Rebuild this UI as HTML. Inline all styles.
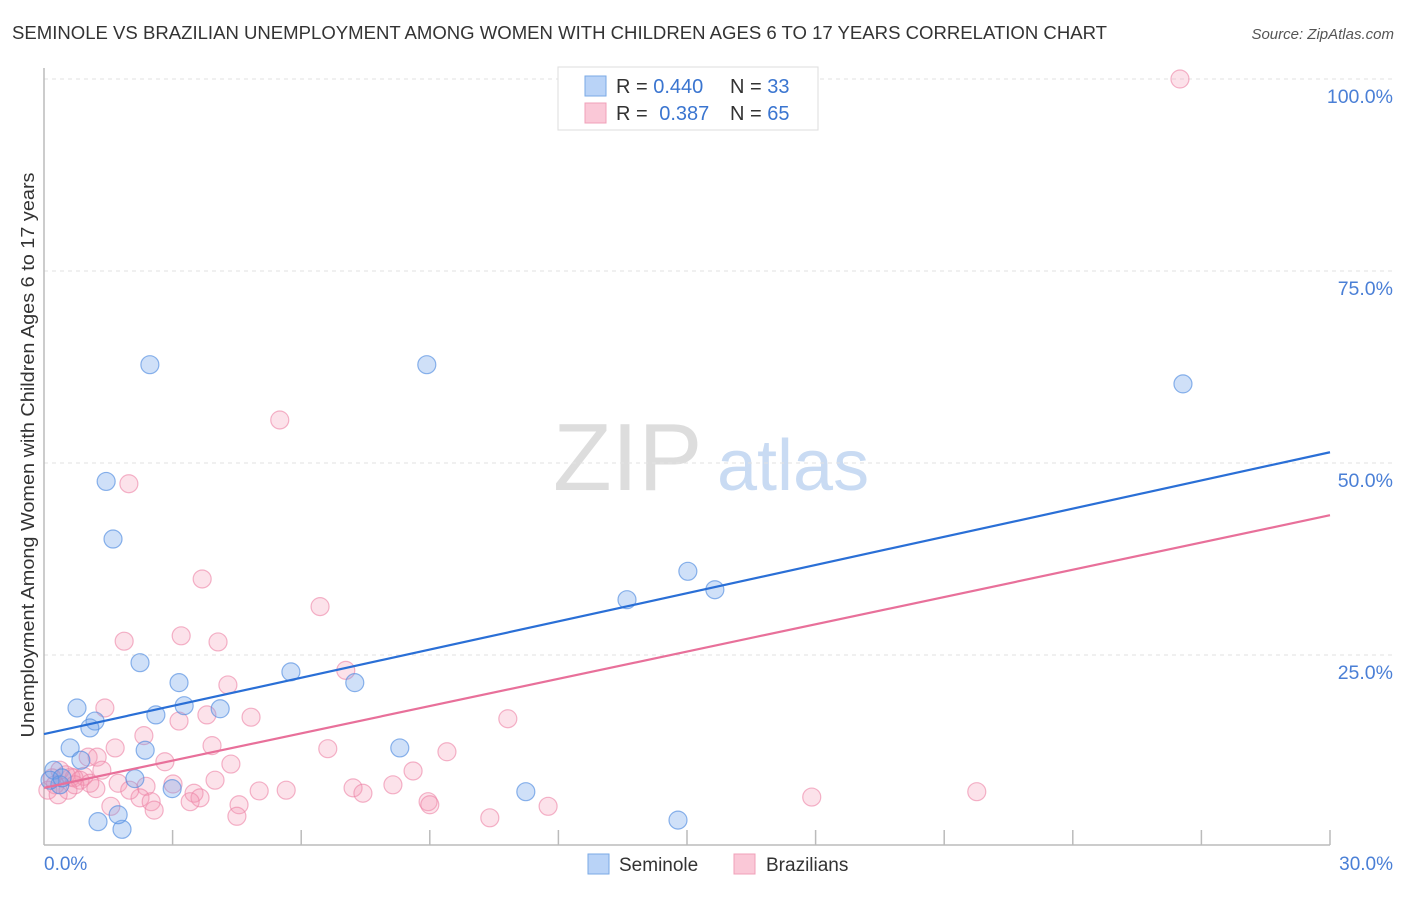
<!DOCTYPE html>
<html><head><meta charset="utf-8"><style>
body{margin:0;background:#fff;font-family:"Liberation Sans",sans-serif;}
svg text{font-family:"Liberation Sans",sans-serif;}
</style></head><body>
<svg width="1406" height="892">
<text x="12" y="39" font-size="18" fill="#333" textLength="1095" lengthAdjust="spacingAndGlyphs">SEMINOLE VS BRAZILIAN UNEMPLOYMENT AMONG WOMEN WITH CHILDREN AGES 6 TO 17 YEARS CORRELATION CHART</text>
<text x="1394" y="39" font-size="15" fill="#555" font-style="italic" text-anchor="end">Source: ZipAtlas.com</text>
<g>
<text x="553" y="490" font-size="96" fill="#ddd" font-family="Liberation Serif">ZIP</text>
<text x="717" y="490" font-size="72" fill="#c9dbf3">atlas</text>
</g>
<g id="grid"></g>
<g id="axes"></g>
<g id="marks"></g>
<text transform="translate(34,455) rotate(-90)" font-size="18" fill="#333" text-anchor="middle" textLength="565" lengthAdjust="spacingAndGlyphs">Unemployment Among Women with Children Ages 6 to 17 years</text>
<g>
<rect x="558" y="67" width="260" height="63" fill="#fff" stroke="#ddd"/>
<rect x="585" y="76" width="21" height="20" fill="#b9d3f7" stroke="#7aaae6"/>
<rect x="585" y="103" width="21" height="20" fill="#fac8d7" stroke="#f0a0b8"/>
<text x="616" y="93" font-size="20" fill="#333">R = <tspan fill="#3a75d0">0.440</tspan></text>
<text x="730" y="93" font-size="20" fill="#333">N = <tspan fill="#3a75d0">33</tspan></text>
<text x="616" y="120" font-size="20" fill="#333">R = <tspan fill="#3a75d0" dx="6">0.387</tspan></text>
<text x="730" y="120" font-size="20" fill="#333">N = <tspan fill="#3a75d0">65</tspan></text>
</g>
<g>
<rect x="588" y="854" width="21" height="20" fill="#b9d3f7" stroke="#7aaae6"/>
<text x="619" y="871" font-size="19" fill="#333">Seminole</text>
<rect x="734" y="854" width="21" height="20" fill="#fac8d7" stroke="#f0a0b8"/>
<text x="766" y="871" font-size="19" fill="#333">Brazilians</text>
</g>
</svg>
<script>
const yTicks=[25,50,75,100];
const yTickLabels=["25.0%","50.0%","75.0%","100.0%"];
const xTickCount=10;
const xEndLabels=["0.0%","30.0%"];
const blueX=[2.47,8.93,26.57,1.45,1.61,15.02,15.65,13.6,2.24,3.15,5.76,7.25,0.77,3.27,4.11,1.19,2.61,1.07,0.61,2.36,8.30,0.86,0.23,0.37,2.12,2.99,11.24,1.26,1.82,1.73,14.79,0.14,0.42];
const blueY=[62.8,62.8,60.3,47.6,40.1,35.9,33.5,32.2,24.0,21.4,22.8,21.4,18.1,18.4,18.0,16.4,17.2,15.5,12.9,12.6,12.9,11.3,10.0,8.1,8.9,7.6,7.2,3.3,2.3,4.2,3.5,8.7,9.0];
const pinkX=[26.5,5.5,1.98,3.69,6.44,1.87,3.2,4.06,7.04,4.29,1.42,4.83,3.15,3.8,10.82,2.33,3.92,1.66,6.62,9.4,1.03,1.24,2.82,4.36,8.61,0.93,0.63,0.7,1.21,1.73,2.38,3.01,3.99,8.14,7.21,7.44,5.02,5.65,3.5,2.24,2.5,3.64,3.41,8.96,9.0,4.55,1.56,2.57,11.76,17.91,21.76,10.4,4.5,0.26,0.09,0.37,0.51,0.84,1.07,1.35,0.56,0.19,0.72,2.0,0.33];
const pinkY=[100,55.6,47.3,34.9,31.3,26.8,27.5,26.7,23.0,21.1,18.1,16.9,16.4,17.2,16.7,14.5,13.2,12.9,12.8,12.4,11.7,11.7,11.1,10.8,9.9,9.2,9.1,9.0,7.6,8.3,7.9,8.2,8.7,8.1,7.7,7.0,7.3,7.4,7.0,6.4,5.9,6.4,5.9,5.9,5.5,5.5,5.3,4.8,5.3,6.5,7.2,3.8,4.0,8.1,7.4,10.0,9.4,8.7,8.3,10.0,7.4,9.0,8.1,7.4,6.8];
const blueTrend=[14.7,51.4];
const pinkTrend=[7.7,43.2];
const NS="http://www.w3.org/2000/svg";
const X0=44,X1=1330,Y0=847,YPX=7.68;
function sx(v){return X0+(X1-X0)*v/30;}
function sy(v){return Y0-v*YPX;}
function mk(tag,attrs,parent){const e=document.createElementNS(NS,tag);for(const k in attrs)e.setAttribute(k,attrs[k]);parent.appendChild(e);return e;}
const grid=document.getElementById('grid'),axes=document.getElementById('axes'),marks=document.getElementById('marks');
yTicks.forEach((t,i)=>{
 const l=mk('line',{x1:X0,x2:1393,y1:sy(t),y2:sy(t),stroke:'#e2e2e2','stroke-dasharray':'4,4'},grid);
 
 
 const tx=mk('text',{x:1393,y:sy(t)+24,'font-size':19.5,fill:'#4a7fd6','text-anchor':'end'},axes);
 tx.textContent=yTickLabels[i];
 
 
});
const ax=mk('line',{x1:X0,x2:X1,y1:845,y2:845,stroke:'#bbb','stroke-width':1.5},axes);


const ay=mk('line',{x1:X0,x2:X0,y1:68,y2:845,stroke:'#bbb','stroke-width':1.5},axes);


for(let i=1;i<=xTickCount;i++){
 const x=sx(30*i/xTickCount);
 const t=mk('line',{x1:x,x2:x,y1:830,y2:845,stroke:'#bbb','stroke-width':1.5},axes);
 
 
}
const xl0=mk('text',{x:44,y:870,'font-size':19,fill:'#4a7fd6'},axes);xl0.textContent=xEndLabels[0];


const xl1=mk('text',{x:1393,y:870,'font-size':19,fill:'#4a7fd6','text-anchor':'end'},axes);xl1.textContent=xEndLabels[1];


pinkX.forEach((v,i)=>{
 const c=mk('circle',{cx:sx(v),cy:sy(pinkY[i]),r:9,fill:'rgba(244,150,180,0.28)',stroke:'rgba(236,130,165,0.6)','stroke-width':1.2},marks);
 
 
});
blueX.forEach((v,i)=>{
 const c=mk('circle',{cx:sx(v),cy:sy(blueY[i]),r:9,fill:'rgba(110,160,235,0.33)',stroke:'rgba(80,140,225,0.65)','stroke-width':1.2},marks);
 
 
});
const bl=mk('line',{x1:sx(0),y1:sy(blueTrend[0]),x2:sx(30),y2:sy(blueTrend[1]),stroke:'#2a6fd6','stroke-width':2.2},marks);


const pl=mk('line',{x1:sx(0),y1:sy(pinkTrend[0]),x2:sx(30),y2:sy(pinkTrend[1]),stroke:'#e8709a','stroke-width':2.2},marks);


</script>
</body></html>
